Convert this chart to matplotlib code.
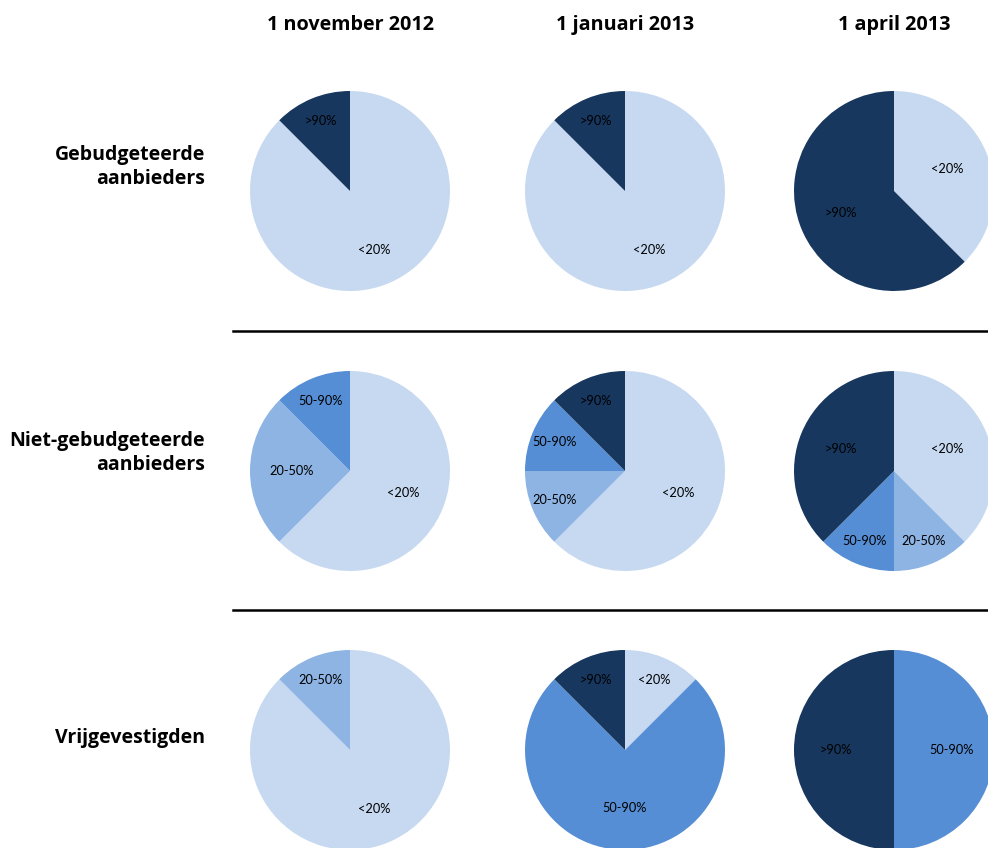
import matplotlib
matplotlib.use("Agg")
import matplotlib.pyplot as plt
import numpy as np

categories = ["<20%", "20-50%", "50-90%", ">90%"]
colors = ["#C6D9F1", "#8EB4E3", "#558ED5", "#17375E"]

columns = ["1 november 2012", "1 januari 2013", "1 april 2013"]
rows = ["Gebudgeteerde\naanbieders", "Niet-gebudgeteerde\naanbieders", "Vrijgevestigden"]

# shares per category (<20%, 20-50%, 50-90%, >90%) in percent
gebudgeteerd = [
    [87.5, 0, 0, 12.5],
    [87.5, 0, 0, 12.5],
    [37.5, 0, 0, 62.5],
]
niet_gebudgeteerd = [
    [62.5, 25.0, 12.5, 0],
    [62.5, 12.5, 12.5, 12.5],
    [37.5, 12.5, 12.5, 37.5],
]
vrijgevestigd = [
    [87.5, 12.5, 0, 0],
    [12.5, 0, 75.0, 12.5],
    [0, 0, 50.0, 50.0],
]
data = [gebudgeteerd, niet_gebudgeteerd, vrijgevestigd]

W, H = 988, 848
fig = plt.figure(figsize=(W / 100, H / 100), dpi=100)
fig.patch.set_facecolor("white")

col_cx = [350, 625, 894]
row_cy = [191, 471, 750]
R = 100

font = "Open Sans"
small_font = "Lato"

for r, cy in enumerate(row_cy):
    for c, cx in enumerate(col_cx):
        ax = fig.add_axes([(cx - R) / W, 1 - (cy + R) / H, 2 * R / W, 2 * R / H])
        vals = data[r][c]
        idx = [i for i, v in enumerate(vals) if v > 0]
        v = [vals[i] for i in idx]
        wedges, _ = ax.pie(v, colors=[colors[i] for i in idx], startangle=90,
                           counterclock=False, radius=1.0,
                           wedgeprops=dict(linewidth=0))
        for w, i, val in zip(wedges, idx, v):
            th = np.deg2rad((w.theta1 + w.theta2) / 2)
            d = 0.76 if val <= 12.5 else (0.58 if val < 80 else 0.64)
            ax.text(d * np.cos(th), d * np.sin(th), categories[i], ha="center",
                    va="center", fontsize=9.2, family=small_font, color="black")
        ax.set_xlim(-1, 1)
        ax.set_ylim(-1, 1)
        ax.set_aspect("equal")
        ax.axis("off")

for c, cx in enumerate(col_cx):
    fig.text(cx / W, 1 - 25 / H, columns[c], ha="center", va="center",
             fontsize=14.2, fontweight="bold", family=font)

row_label_y = [167, 453, 738]
for r, ly in enumerate(row_label_y):
    fig.text(205 / W, 1 - ly / H, rows[r], ha="right", va="center",
             fontsize=14, fontweight="bold", family=font, linespacing=1.3)

for y in [331, 610]:
    fig.add_artist(plt.Line2D([233 / W, 1.0], [1 - y / H, 1 - y / H],
                              transform=fig.transFigure, color="black", linewidth=1.8))

fig.savefig("out.png", dpi=100)
